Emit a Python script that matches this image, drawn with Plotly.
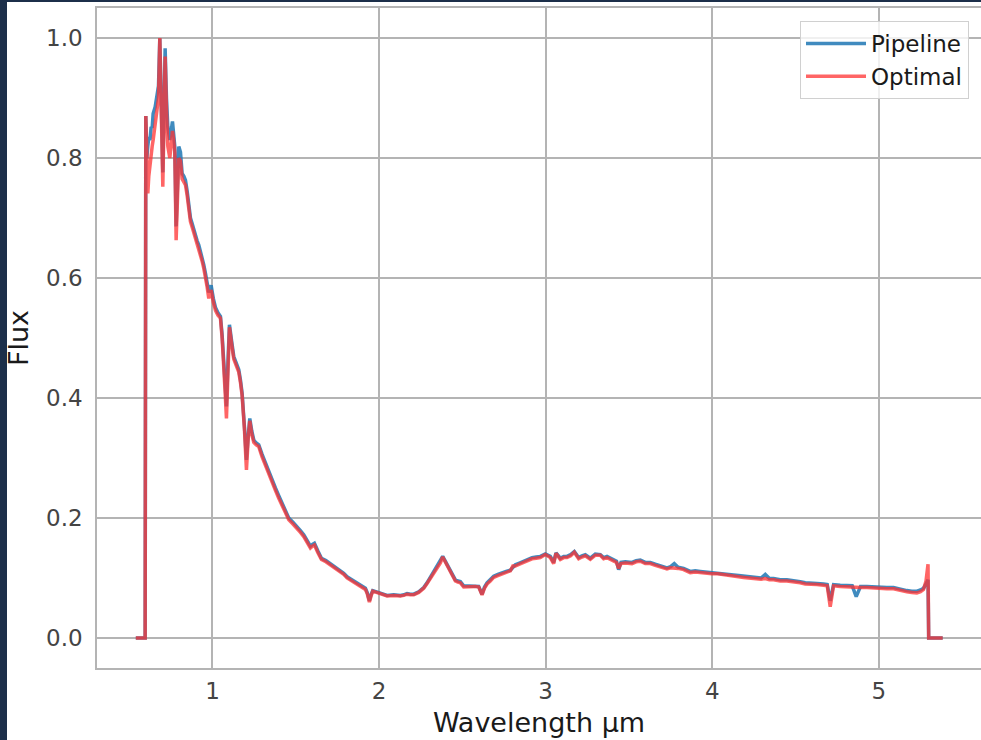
import plotly.graph_objects as go

# Wavelength grid (micron)
wavelength = [
    0.540, 0.575, 0.596, 0.600, 0.606, 0.612, 0.618, 0.625, 0.632, 0.638, 0.644, 0.656, 0.668, 0.676, 0.684,
    0.693, 0.702, 0.709, 0.716, 0.724, 0.732, 0.744, 0.752, 0.760, 0.767, 0.774, 0.782, 0.790, 0.798, 0.808,
    0.818, 0.828, 0.838, 0.848, 0.858, 0.868, 0.878, 0.888, 0.898, 0.908, 0.918, 0.928, 0.938, 0.948, 0.958,
    0.968, 0.978, 0.985, 0.992, 1.005, 1.018, 1.033, 1.048, 1.058, 1.068, 1.076, 1.084, 1.093, 1.102, 1.115,
    1.128, 1.143, 1.158, 1.168, 1.178, 1.192, 1.204, 1.214, 1.224, 1.236, 1.248, 1.263, 1.278, 1.298, 1.318,
    1.338, 1.358, 1.378, 1.398, 1.428, 1.458, 1.483, 1.508, 1.528, 1.548, 1.568, 1.588, 1.600, 1.612, 1.633,
    1.654, 1.681, 1.708, 1.738, 1.768, 1.788, 1.808, 1.838, 1.868, 1.893, 1.918, 1.930, 1.942, 1.952, 1.962,
    1.985, 2.008, 2.028, 2.048, 2.088, 2.128, 2.148, 2.168, 2.188, 2.208, 2.238, 2.268, 2.288, 2.308, 2.328,
    2.348, 2.368, 2.382, 2.400, 2.418, 2.438, 2.458, 2.473, 2.488, 2.508, 2.543, 2.578, 2.598, 2.618, 2.633,
    2.648, 2.668, 2.688, 2.713, 2.738, 2.763, 2.788, 2.803, 2.818, 2.843, 2.868, 2.893, 2.918, 2.943, 2.968,
    2.998, 3.028, 3.048, 3.062, 3.088, 3.108, 3.128, 3.150, 3.172, 3.198, 3.218, 3.238, 3.268, 3.298, 3.328,
    3.348, 3.368, 3.388, 3.408, 3.425, 3.438, 3.452, 3.478, 3.518, 3.543, 3.568, 3.598, 3.628, 3.658, 3.688,
    3.728, 3.750, 3.772, 3.795, 3.828, 3.868, 3.898, 3.928, 3.965, 3.998, 4.033, 4.068, 4.098, 4.128, 4.158,
    4.188, 4.228, 4.268, 4.293, 4.318, 4.343, 4.368, 4.408, 4.448, 4.488, 4.528, 4.558, 4.588, 4.628, 4.668,
    4.690, 4.708, 4.728, 4.768, 4.808, 4.840, 4.864, 4.890, 4.928, 4.968, 5.008, 5.048, 5.088, 5.128, 5.168,
    5.198, 5.228, 5.250, 5.268, 5.283, 5.295, 5.299, 5.320, 5.350, 5.383,
]

pipeline_flux = [
    0.000, 0.000, 0.000, 0.870, 0.800, 0.820, 0.835, 0.830, 0.852, 0.850, 0.874, 0.885, 0.908, 0.920, 0.999,
    0.880, 0.776, 0.880, 0.983, 0.900, 0.852, 0.830, 0.845, 0.861, 0.840, 0.819, 0.686, 0.780, 0.819, 0.810,
    0.774, 0.770, 0.763, 0.745, 0.719, 0.700, 0.691, 0.680, 0.672, 0.662, 0.655, 0.645, 0.634, 0.622, 0.608,
    0.592, 0.576, 0.582, 0.588, 0.566, 0.551, 0.542, 0.536, 0.505, 0.463, 0.420, 0.386, 0.460, 0.522, 0.495,
    0.469, 0.458, 0.447, 0.430, 0.408, 0.352, 0.297, 0.335, 0.366, 0.345, 0.330, 0.325, 0.322, 0.306, 0.291,
    0.277, 0.263, 0.250, 0.237, 0.217, 0.200, 0.193, 0.186, 0.179, 0.172, 0.162, 0.153, 0.156, 0.158, 0.145,
    0.133, 0.129, 0.124, 0.119, 0.113, 0.108, 0.102, 0.097, 0.091, 0.087, 0.083, 0.075, 0.062, 0.072, 0.079,
    0.077, 0.075, 0.072, 0.071, 0.072, 0.071, 0.072, 0.074, 0.073, 0.073, 0.077, 0.084, 0.092, 0.101, 0.111,
    0.119, 0.127, 0.136, 0.127, 0.117, 0.106, 0.097, 0.095, 0.094, 0.087, 0.087, 0.087, 0.086, 0.073, 0.085,
    0.092, 0.097, 0.103, 0.106, 0.109, 0.111, 0.113, 0.118, 0.122, 0.125, 0.128, 0.131, 0.134, 0.135, 0.136,
    0.140, 0.136, 0.126, 0.142, 0.133, 0.136, 0.136, 0.139, 0.144, 0.134, 0.137, 0.139, 0.133, 0.140, 0.139,
    0.134, 0.136, 0.133, 0.131, 0.128, 0.114, 0.126, 0.127, 0.126, 0.129, 0.130, 0.126, 0.126, 0.123, 0.121,
    0.117, 0.119, 0.124, 0.118, 0.116, 0.111, 0.112, 0.111, 0.110, 0.109, 0.109, 0.108, 0.106, 0.105, 0.104,
    0.103, 0.102, 0.101, 0.100, 0.106, 0.099, 0.099, 0.097, 0.097, 0.096, 0.094, 0.092, 0.091, 0.091, 0.090,
    0.089, 0.062, 0.089, 0.088, 0.087, 0.087, 0.069, 0.086, 0.086, 0.085, 0.085, 0.084, 0.084, 0.081, 0.079,
    0.078, 0.078, 0.080, 0.083, 0.090, 0.097, 0.000, 0.000, 0.000, 0.000,
]

optimal_flux = [
    0.000, 0.000, 0.000, 0.870, 0.780, 0.741, 0.770, 0.791, 0.800, 0.819, 0.830, 0.855, 0.886, 0.900, 1.000,
    0.850, 0.752, 0.860, 0.969, 0.880, 0.820, 0.800, 0.825, 0.845, 0.830, 0.810, 0.663, 0.760, 0.800, 0.795,
    0.765, 0.760, 0.755, 0.738, 0.712, 0.694, 0.685, 0.676, 0.667, 0.658, 0.650, 0.640, 0.628, 0.616, 0.602,
    0.585, 0.566, 0.575, 0.580, 0.560, 0.546, 0.538, 0.533, 0.500, 0.460, 0.410, 0.366, 0.455, 0.518, 0.490,
    0.465, 0.454, 0.443, 0.426, 0.404, 0.348, 0.280, 0.330, 0.362, 0.340, 0.326, 0.322, 0.319, 0.302, 0.287,
    0.273, 0.259, 0.246, 0.233, 0.214, 0.197, 0.190, 0.183, 0.176, 0.169, 0.159, 0.150, 0.153, 0.155, 0.142,
    0.131, 0.127, 0.122, 0.117, 0.111, 0.106, 0.100, 0.095, 0.089, 0.085, 0.081, 0.073, 0.060, 0.070, 0.078,
    0.076, 0.074, 0.071, 0.070, 0.071, 0.070, 0.071, 0.073, 0.072, 0.072, 0.076, 0.083, 0.091, 0.100, 0.109,
    0.117, 0.125, 0.135, 0.125, 0.115, 0.104, 0.095, 0.093, 0.092, 0.085, 0.086, 0.086, 0.085, 0.072, 0.083,
    0.090, 0.095, 0.101, 0.104, 0.107, 0.109, 0.112, 0.120, 0.120, 0.123, 0.126, 0.129, 0.132, 0.133, 0.134,
    0.139, 0.134, 0.124, 0.141, 0.131, 0.134, 0.134, 0.137, 0.143, 0.132, 0.135, 0.137, 0.131, 0.138, 0.138,
    0.132, 0.134, 0.131, 0.129, 0.126, 0.116, 0.124, 0.125, 0.124, 0.127, 0.128, 0.124, 0.124, 0.121, 0.119,
    0.115, 0.117, 0.117, 0.116, 0.114, 0.109, 0.110, 0.109, 0.108, 0.107, 0.107, 0.106, 0.104, 0.103, 0.102,
    0.101, 0.100, 0.099, 0.098, 0.099, 0.097, 0.097, 0.095, 0.095, 0.094, 0.092, 0.090, 0.089, 0.089, 0.088,
    0.087, 0.052, 0.087, 0.086, 0.085, 0.085, 0.085, 0.084, 0.084, 0.083, 0.082, 0.082, 0.082, 0.079, 0.077,
    0.076, 0.075, 0.077, 0.081, 0.095, 0.123, 0.000, 0.000, 0.000, 0.000,
]

x_ticks = [1, 2, 3, 4, 5]
y_ticks = [0.0, 0.2, 0.4, 0.6, 0.8, 1.0]

W, H = 981, 740
ML, MR, MT, MB = 97, 0, 8, 72

fig = go.Figure()
fig.add_trace(go.Scatter(
    x=wavelength, y=pipeline_flux, mode="lines", name="Pipeline",
    line=dict(color="rgba(31,119,180,0.85)", width=3.5),
))
fig.add_trace(go.Scatter(
    x=wavelength, y=optimal_flux, mode="lines", name="Optimal",
    line=dict(color="rgba(255,50,50,0.75)", width=3.5),
))

grid_col = "#b4b4b4"
fig.update_layout(
    width=W, height=H,
    margin=dict(l=ML, r=MR, t=MT, b=MB),
    paper_bgcolor="white", plot_bgcolor="white",
    font=dict(family="DejaVu Sans", size=23, color="#444444"),
    showlegend=True,
    legend=dict(
        x=(969 - ML) / (W - ML - MR), y=(H - MB - 21) / (H - MT - MB),
        xanchor="right", yanchor="top",
        bgcolor="rgba(255,255,255,0.8)", bordercolor="#d0d0d0", borderwidth=1,
        font=dict(family="DejaVu Sans", size=23, color="#1a1a1a"),
        tracegroupgap=0, itemwidth=60,
    ),
    xaxis=dict(
        range=[0.307, 5.613], tickvals=x_ticks, ticktext=[str(v) for v in x_ticks],
        showgrid=True, gridcolor=grid_col, gridwidth=1.5, zeroline=False,
        showline=True, linecolor=grid_col, linewidth=1.5, mirror=True,
        ticks="", ticklabelstandoff=2,
        title=dict(text="Wavelength μm", font=dict(size=27, color="#1a1a1a"), standoff=10),
        automargin=False,
    ),
    yaxis=dict(
        range=[-0.05, 1.05], tickvals=y_ticks, tickformat=".1f",
        showgrid=True, gridcolor=grid_col, gridwidth=1.5, zeroline=False,
        showline=True, linecolor=grid_col, linewidth=1.5, mirror=True,
        ticks="", ticklabelstandoff=8,
        title=dict(text="Flux", font=dict(size=27, color="#1a1a1a"), standoff=10),
        automargin=False,
    ),
)

# dark screenshot border (left and top strips)
pw, ph = W - ML - MR, H - MT - MB
fig.add_shape(type="rect", xref="paper", yref="paper", layer="above",
              x0=-ML / pw, x1=(7 - ML) / pw, y0=-MB / ph, y1=(H - MB) / ph,
              line=dict(width=0), fillcolor="#1c2f4a")
fig.add_shape(type="rect", xref="paper", yref="paper", layer="above",
              x0=-ML / pw, x1=(W - ML) / pw, y0=(H - MB - 2) / ph, y1=(H - MB) / ph,
              line=dict(width=0), fillcolor="#1c2f4a")

fig.write_html("out.html", config={"displayModeBar": False},
               post_script="document.body.style.margin='0px';")
